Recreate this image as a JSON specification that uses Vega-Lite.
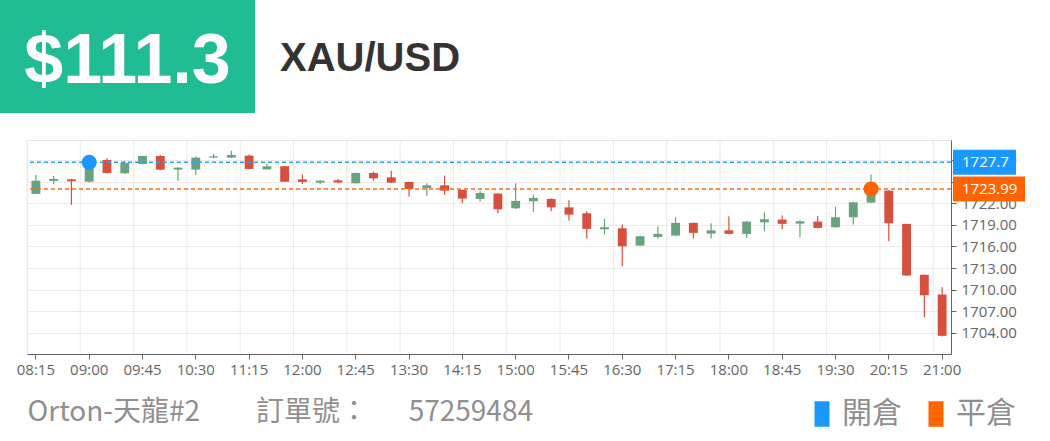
{
  "$schema": "https://vega.github.io/schema/vega-lite/v6.json",
  "padding": 0,
  "background": "white",
  "spacing": 26,
  "config": {"view": {"stroke": null}, "font": "Open Sans"},
  "resolve": {"scale": {"color": "independent"}, "legend": {"color": "independent"}},
  "datasets": {
    "candles": [
      {"t": "08:15", "open": 1723.31, "high": 1725.94, "low": 1723.31, "close": 1725.15},
      {"t": "08:30", "open": 1725.11, "high": 1725.81, "low": 1724.64, "close": 1725.39},
      {"t": "08:45", "open": 1725.33, "high": 1725.4, "low": 1721.78, "close": 1725.06},
      {"t": "09:00", "open": 1725.0, "high": 1727.9, "low": 1724.9, "close": 1727.6},
      {"t": "09:15", "open": 1728.03, "high": 1728.25, "low": 1726.15, "close": 1726.22},
      {"t": "09:30", "open": 1726.17, "high": 1727.93, "low": 1726.1, "close": 1727.61},
      {"t": "09:45", "open": 1727.47, "high": 1728.62, "low": 1727.4, "close": 1728.58},
      {"t": "10:00", "open": 1728.58, "high": 1728.72, "low": 1726.6, "close": 1726.68},
      {"t": "10:15", "open": 1726.68, "high": 1726.98, "low": 1725.15, "close": 1726.96},
      {"t": "10:30", "open": 1726.68, "high": 1728.49, "low": 1725.94, "close": 1728.35},
      {"t": "10:45", "open": 1728.35, "high": 1728.86, "low": 1728.3, "close": 1728.53},
      {"t": "11:00", "open": 1728.35, "high": 1729.32, "low": 1728.3, "close": 1728.72},
      {"t": "11:15", "open": 1728.63, "high": 1728.8, "low": 1726.7, "close": 1726.78},
      {"t": "11:30", "open": 1726.72, "high": 1727.47, "low": 1726.7, "close": 1727.14},
      {"t": "11:45", "open": 1727.14, "high": 1727.2, "low": 1725.0, "close": 1725.01},
      {"t": "12:00", "open": 1725.33, "high": 1726.03, "low": 1724.69, "close": 1724.97},
      {"t": "12:15", "open": 1724.88, "high": 1725.2, "low": 1724.7, "close": 1725.15},
      {"t": "12:30", "open": 1725.2, "high": 1725.4, "low": 1724.8, "close": 1724.9},
      {"t": "12:45", "open": 1724.78, "high": 1726.25, "low": 1724.75, "close": 1726.22},
      {"t": "13:00", "open": 1726.22, "high": 1726.4, "low": 1725.15, "close": 1725.47},
      {"t": "13:15", "open": 1725.61, "high": 1726.54, "low": 1724.8, "close": 1724.88},
      {"t": "13:30", "open": 1724.97, "high": 1725.0, "low": 1722.93, "close": 1724.0},
      {"t": "13:45", "open": 1724.14, "high": 1724.78, "low": 1723.03, "close": 1724.5},
      {"t": "14:00", "open": 1724.5, "high": 1725.85, "low": 1723.17, "close": 1723.76},
      {"t": "14:15", "open": 1723.86, "high": 1723.9, "low": 1722.0, "close": 1722.65},
      {"t": "14:30", "open": 1722.61, "high": 1723.76, "low": 1722.24, "close": 1723.44},
      {"t": "14:45", "open": 1723.35, "high": 1723.4, "low": 1720.61, "close": 1721.17},
      {"t": "15:00", "open": 1721.31, "high": 1724.78, "low": 1721.2, "close": 1722.33},
      {"t": "15:15", "open": 1722.28, "high": 1723.21, "low": 1720.81, "close": 1722.75},
      {"t": "15:30", "open": 1722.61, "high": 1722.7, "low": 1720.89, "close": 1721.44},
      {"t": "15:45", "open": 1721.44, "high": 1722.42, "low": 1719.6, "close": 1720.43},
      {"t": "16:00", "open": 1720.61, "high": 1720.89, "low": 1717.1, "close": 1718.44},
      {"t": "16:15", "open": 1718.39, "high": 1719.83, "low": 1717.65, "close": 1718.67},
      {"t": "16:30", "open": 1718.53, "high": 1719.04, "low": 1713.25, "close": 1716.03},
      {"t": "16:45", "open": 1716.13, "high": 1717.5, "low": 1716.05, "close": 1717.42},
      {"t": "17:00", "open": 1717.33, "high": 1718.76, "low": 1717.1, "close": 1717.75},
      {"t": "17:15", "open": 1717.51, "high": 1720.06, "low": 1717.42, "close": 1719.28},
      {"t": "17:30", "open": 1719.28, "high": 1719.3, "low": 1717.1, "close": 1717.89},
      {"t": "17:45", "open": 1717.79, "high": 1719.22, "low": 1717.1, "close": 1718.25},
      {"t": "18:00", "open": 1718.25, "high": 1720.19, "low": 1717.7, "close": 1717.75},
      {"t": "18:15", "open": 1717.75, "high": 1719.5, "low": 1717.19, "close": 1719.46},
      {"t": "18:30", "open": 1719.36, "high": 1720.75, "low": 1718.11, "close": 1719.78},
      {"t": "18:45", "open": 1719.74, "high": 1720.29, "low": 1718.39, "close": 1719.14},
      {"t": "19:00", "open": 1719.18, "high": 1719.64, "low": 1717.28, "close": 1719.5},
      {"t": "19:15", "open": 1719.46, "high": 1720.25, "low": 1718.5, "close": 1718.58},
      {"t": "19:30", "open": 1718.67, "high": 1721.54, "low": 1718.6, "close": 1720.06},
      {"t": "19:45", "open": 1720.06, "high": 1722.2, "low": 1719.04, "close": 1722.14},
      {"t": "20:00", "open": 1722.1, "high": 1726.0, "low": 1722.05, "close": 1723.8},
      {"t": "20:15", "open": 1723.76, "high": 1723.8, "low": 1716.72, "close": 1719.22},
      {"t": "20:30", "open": 1719.14, "high": 1719.14, "low": 1711.9, "close": 1711.96},
      {"t": "20:45", "open": 1712.06, "high": 1712.1, "low": 1706.17, "close": 1709.22},
      {"t": "21:00", "open": 1709.32, "high": 1710.33, "low": 1703.5, "close": 1703.58}
    ],
    "labelled": [
      {"t": "08:15"}, {"t": "09:00"}, {"t": "09:45"}, {"t": "10:30"}, {"t": "11:15"}, {"t": "12:00"},
      {"t": "12:45"}, {"t": "13:30"}, {"t": "14:15"}, {"t": "15:00"}, {"t": "15:45"}, {"t": "16:30"},
      {"t": "17:15"}, {"t": "18:00"}, {"t": "18:45"}, {"t": "19:30"}, {"t": "20:15"}, {"t": "21:00"}
    ],
    "trades": [
      {"type": "開倉", "t": "09:00", "price": 1727.7},
      {"type": "平倉", "t": "20:00", "price": 1723.99}
    ]
  },
  "vconcat": [
    {
      "spacing": 0,
      "hconcat": [
        {
          "width": 255,
          "height": 113,
          "view": {"fill": "#20bd94", "stroke": null},
          "data": {"values": [{"profit": "$111.3"}]},
          "mark": {"type": "text", "font": "Liberation Sans", "fontWeight": "bold", "fontSize": 70, "fill": "white", "align": "center", "baseline": "middle", "dy": 5},
          "encoding": {"text": {"field": "profit"}}
        },
        {
          "width": 795,
          "height": 113,
          "data": {"values": [{"pair": "XAU/USD"}]},
          "mark": {"type": "text", "font": "Liberation Sans", "fontWeight": "bold", "fontSize": 40, "fill": "#333333", "align": "left", "baseline": "middle", "x": 25, "dy": 2},
          "encoding": {"text": {"field": "pair"}}
        }
      ]
    },
    {
      "spacing": 0,
      "bounds": "flush",
      "resolve": {"scale": {"color": "independent"}, "legend": {"color": "independent"}},
      "hconcat": [
        {
          "width": 27,
          "height": 214,
          "data": {"values": [{}]},
          "mark": {"type": "text", "text": ""}
        },
        {
          "width": 924,
          "height": 214,
          "view": {"stroke": "#e6e6e6"},
          "layer": [
            {
              "data": {"name": "labelled"},
              "mark": {"type": "rule", "stroke": "#ebebeb", "strokeWidth": 1},
              "encoding": {
                "x": {"field": "t", "type": "ordinal", "bandPosition": 0,
                  "scale": {"type": "band", "paddingInner": 0, "paddingOuter": 0},
                  "axis": {"values": ["08:15","09:00","09:45","10:30","11:15","12:00","12:45","13:30","14:15","15:00","15:45","16:30","17:15","18:00","18:45","19:30","20:15","21:00"], "title": "Orton-天龍#2\u3000\u3000訂單號：\u3000\u00a0\u00a057259484", "labelAngle": 0, "labelFont": "Open Sans", "labelFontSize": 15, "labelColor": "#666666", "labelPadding": 3, "labelOverlap": false, "tickSize": 5, "tickColor": "#666666", "domainColor": "#666666", "grid": false, "titleFont": "Noto Sans CJK TC", "titleFontSize": 28, "titleFontWeight": "normal", "titleColor": "#8f8f8f", "titleAnchor": "start", "titleAlign": "left", "titleBaseline": "middle", "titleX": 0, "titleY": 58}}
              }
            },
            {
              "data": {"name": "candles"},
              "mark": {"type": "rule", "strokeWidth": 1.2},
              "encoding": {
                "x": {"field": "t", "type": "ordinal",
                  "scale": {"type": "band", "paddingInner": 0, "paddingOuter": 0},
                  "axis": {"values": ["08:15","09:00","09:45","10:30","11:15","12:00","12:45","13:30","14:15","15:00","15:45","16:30","17:15","18:00","18:45","19:30","20:15","21:00"], "title": "Orton-天龍#2\u3000\u3000訂單號：\u3000\u00a0\u00a057259484", "labelAngle": 0, "labelFont": "Open Sans", "labelFontSize": 15, "labelColor": "#666666", "labelPadding": 3, "labelOverlap": false, "tickSize": 5, "tickColor": "#666666", "domainColor": "#666666", "grid": false, "titleFont": "Noto Sans CJK TC", "titleFontSize": 28, "titleFontWeight": "normal", "titleColor": "#8f8f8f", "titleAnchor": "start", "titleAlign": "left", "titleBaseline": "middle", "titleX": 0, "titleY": 58}},
                "y": {"field": "low", "type": "quantitative",
                  "scale": {"domain": [1701.05, 1730.8], "nice": false, "zero": false},
                  "axis": {"orient": "right", "values": [1704,1707,1710,1713,1716,1719,1722,1725,1728], "format": ".2f", "title": null, "grid": true, "gridColor": "#ebebeb", "labelFont": "Open Sans", "labelFontSize": 15, "labelColor": "#666666", "labelPadding": 5, "labelOverlap": false, "tickSize": 5, "tickColor": "#666666", "domainColor": "#666666"}},
                "y2": {"field": "high"},
                "color": {"condition": {"test": "datum.close >= datum.open", "value": "#68a27f"}, "value": "#d7503e"}
              }
            },
            {
              "data": {"name": "candles"},
              "mark": {"type": "bar", "width": {"band": 0.5}},
              "encoding": {
                "x": {"field": "t", "type": "ordinal",
                  "scale": {"type": "band", "paddingInner": 0, "paddingOuter": 0},
                  "axis": {"values": ["08:15","09:00","09:45","10:30","11:15","12:00","12:45","13:30","14:15","15:00","15:45","16:30","17:15","18:00","18:45","19:30","20:15","21:00"], "title": "Orton-天龍#2\u3000\u3000訂單號：\u3000\u00a0\u00a057259484", "labelAngle": 0, "labelFont": "Open Sans", "labelFontSize": 15, "labelColor": "#666666", "labelPadding": 3, "labelOverlap": false, "tickSize": 5, "tickColor": "#666666", "domainColor": "#666666", "grid": false, "titleFont": "Noto Sans CJK TC", "titleFontSize": 28, "titleFontWeight": "normal", "titleColor": "#8f8f8f", "titleAnchor": "start", "titleAlign": "left", "titleBaseline": "middle", "titleX": 0, "titleY": 58}},
                "y": {"field": "open", "type": "quantitative",
                  "scale": {"domain": [1701.05, 1730.8], "nice": false, "zero": false},
                  "axis": {"orient": "right", "values": [1704,1707,1710,1713,1716,1719,1722,1725,1728], "format": ".2f", "title": null, "grid": true, "gridColor": "#ebebeb", "labelFont": "Open Sans", "labelFontSize": 15, "labelColor": "#666666", "labelPadding": 5, "labelOverlap": false, "tickSize": 5, "tickColor": "#666666", "domainColor": "#666666"}},
                "y2": {"field": "close"},
                "color": {"condition": {"test": "datum.close >= datum.open", "value": "#68a27f"}, "value": "#d7503e"}
              }
            },
            {
              "data": {"name": "trades"},
              "mark": {"type": "rule", "strokeDash": [4, 3], "strokeWidth": 1.5},
              "encoding": {
                "y": {"field": "price", "type": "quantitative",
                  "scale": {"domain": [1701.05, 1730.8], "nice": false, "zero": false},
                  "axis": {"orient": "right", "values": [1704,1707,1710,1713,1716,1719,1722,1725,1728], "format": ".2f", "title": null, "grid": true, "gridColor": "#ebebeb", "labelFont": "Open Sans", "labelFontSize": 15, "labelColor": "#666666", "labelPadding": 5, "labelOverlap": false, "tickSize": 5, "tickColor": "#666666", "domainColor": "#666666"}},
                "stroke": {"field": "type", "type": "nominal", "scale": {"domain": ["開倉", "平倉"], "range": ["#2aa2fa", "#ff6a0d"]}, "legend": null}
              }
            },
            {
              "data": {"name": "trades"},
              "mark": {"type": "point", "filled": true, "opacity": 1, "size": 230, "shape": "circle"},
              "encoding": {
                "x": {"field": "t", "type": "ordinal",
                  "scale": {"type": "band", "paddingInner": 0, "paddingOuter": 0},
                  "axis": {"values": ["08:15","09:00","09:45","10:30","11:15","12:00","12:45","13:30","14:15","15:00","15:45","16:30","17:15","18:00","18:45","19:30","20:15","21:00"], "title": "Orton-天龍#2\u3000\u3000訂單號：\u3000\u00a0\u00a057259484", "labelAngle": 0, "labelFont": "Open Sans", "labelFontSize": 15, "labelColor": "#666666", "labelPadding": 3, "labelOverlap": false, "tickSize": 5, "tickColor": "#666666", "domainColor": "#666666", "grid": false, "titleFont": "Noto Sans CJK TC", "titleFontSize": 28, "titleFontWeight": "normal", "titleColor": "#8f8f8f", "titleAnchor": "start", "titleAlign": "left", "titleBaseline": "middle", "titleX": 0, "titleY": 58}},
                "y": {"field": "price", "type": "quantitative",
                  "scale": {"domain": [1701.05, 1730.8], "nice": false, "zero": false},
                  "axis": {"orient": "right", "values": [1704,1707,1710,1713,1716,1719,1722,1725,1728], "format": ".2f", "title": null, "grid": true, "gridColor": "#ebebeb", "labelFont": "Open Sans", "labelFontSize": 15, "labelColor": "#666666", "labelPadding": 5, "labelOverlap": false, "tickSize": 5, "tickColor": "#666666", "domainColor": "#666666"}},
                "color": {"field": "type", "type": "nominal", "scale": {"domain": ["開倉", "平倉"], "range": ["#1a98ff", "#ff6400"]},
                  "legend": {"orient": "none", "legendX": 780, "legendY": 259, "direction": "horizontal", "title": null, "padding": 0, "symbolType": "M-0.5,-0.85H0.5V0.85H-0.5Z", "symbolSize": 900, "symbolStrokeWidth": 0, "symbolOpacity": 1, "labelFont": "Noto Sans CJK TC", "labelFontSize": 30, "labelColor": "#8f8f8f", "labelOffset": 5, "columnPadding": 19}}
              }
            },
            {
              "data": {"name": "trades"},
              "transform": [{"filter": "datum.type === '開倉'"}],
              "mark": {"type": "point", "filled": true, "opacity": 1, "shape": "M0,-0.397H2V0.397H0Z", "size": 3969, "x": "width", "xOffset": 2},
              "encoding": {
                "y": {"field": "price", "type": "quantitative",
                  "scale": {"domain": [1701.05, 1730.8], "nice": false, "zero": false},
                  "axis": {"orient": "right", "values": [1704,1707,1710,1713,1716,1719,1722,1725,1728], "format": ".2f", "title": null, "grid": true, "gridColor": "#ebebeb", "labelFont": "Open Sans", "labelFontSize": 15, "labelColor": "#666666", "labelPadding": 5, "labelOverlap": false, "tickSize": 5, "tickColor": "#666666", "domainColor": "#666666"}},
                "fill": {"field": "type", "type": "nominal", "scale": {"domain": ["開倉", "平倉"], "range": ["#1a98ff", "#ff6400"]}, "legend": null}
              }
            },
            {
              "data": {"name": "trades"},
              "transform": [{"filter": "datum.type === '平倉'"}],
              "mark": {"type": "point", "filled": true, "opacity": 1, "shape": "M0,-0.347H2V0.347H0Z", "size": 5184, "x": "width", "xOffset": 2},
              "encoding": {
                "y": {"field": "price", "type": "quantitative",
                  "scale": {"domain": [1701.05, 1730.8], "nice": false, "zero": false},
                  "axis": {"orient": "right", "values": [1704,1707,1710,1713,1716,1719,1722,1725,1728], "format": ".2f", "title": null, "grid": true, "gridColor": "#ebebeb", "labelFont": "Open Sans", "labelFontSize": 15, "labelColor": "#666666", "labelPadding": 5, "labelOverlap": false, "tickSize": 5, "tickColor": "#666666", "domainColor": "#666666"}},
                "fill": {"field": "type", "type": "nominal", "scale": {"domain": ["開倉", "平倉"], "range": ["#1a98ff", "#ff6400"]}, "legend": null}
              }
            },
            {
              "data": {"name": "trades"},
              "mark": {"type": "text", "x": "width", "xOffset": 11, "align": "left", "baseline": "middle", "fill": "white", "font": "Open Sans", "fontSize": 15},
              "encoding": {
                "y": {"field": "price", "type": "quantitative",
                  "scale": {"domain": [1701.05, 1730.8], "nice": false, "zero": false},
                  "axis": {"orient": "right", "values": [1704,1707,1710,1713,1716,1719,1722,1725,1728], "format": ".2f", "title": null, "grid": true, "gridColor": "#ebebeb", "labelFont": "Open Sans", "labelFontSize": 15, "labelColor": "#666666", "labelPadding": 5, "labelOverlap": false, "tickSize": 5, "tickColor": "#666666", "domainColor": "#666666"}},
                "text": {"field": "price", "type": "nominal"}
              }
            }
          ]
        }
      ]
    }
  ]
}
